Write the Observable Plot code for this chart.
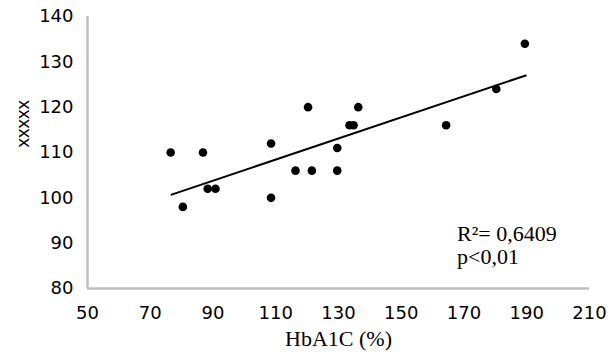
<!DOCTYPE html>
<html>
<head>
<meta charset="utf-8">
<script src="https://cdn.jsdelivr.net/npm/d3@7"></script>
<script src="https://cdn.jsdelivr.net/npm/@observablehq/plot@0.6"></script>
<style>
  html, body { margin: 0; padding: 0; background: #fff; }
</style>
</head>
<body>
<div id="chart"></div>
<script>
// Data
const hba1c = [76.5, 80.4, 86.8, 88.3, 90.8, 108.5, 108.5, 116.3, 120.3, 121.5, 129.6, 129.6, 133.5, 134.8, 136.3, 164.3, 180.3, 189.4];
const xxxxx = [110, 98, 110, 102, 102, 112, 100, 106, 120, 106, 111, 106, 116, 116, 120, 116, 124, 134];
const trendX = [76.8, 189.7];
const trendY = [100.7, 127.0];
const xTicks = [50, 70, 90, 110, 130, 150, 170, 190, 210];
const yTicks = [80, 90, 100, 110, 120, 130, 140];
const xTitle = "HbA1C (%)";
const yTitle = "xxxxx";
const statLines = ["R\u00B2= 0,6409", "p<0,01"];
const statX = [167.8, 167.8];
const statY = [90.4, 85.3];

const points = hba1c.map((x, i) => ({x, y: xxxxx[i]}));
const trend = trendX.map((x, i) => ({x, y: trendY[i]}));
const stats = statLines.map((t, i) => ({t, x: statX[i], y: statY[i]}));

const chart = Plot.plot({
  width: 613,
  height: 363,
  marginLeft: 87,
  marginRight: 24,
  marginTop: 16,
  marginBottom: 75,
  style: {fontFamily: "DejaVu Sans", fontSize: "18px", color: "#000", background: "#fff"},
  x: {domain: [xTicks[0], xTicks[xTicks.length - 1]]},
  y: {domain: [yTicks[0], yTicks[yTicks.length - 1]]},
  marks: [
    Plot.ruleX([xTicks[0]], {stroke: "#bfbfbf", strokeWidth: 2.5}),
    Plot.ruleY([yTicks[0]], {stroke: "#bfbfbf", strokeWidth: 2.5}),
    Plot.axisX({ticks: xTicks, tickSize: 0, tickPadding: 18, label: null, fontSize: 18}),
    Plot.axisY({ticks: yTicks, tickSize: 0, tickPadding: 14, label: null, fontSize: 18}),
    Plot.line(trend, {x: "x", y: "y", stroke: "#000", strokeWidth: 2}),
    Plot.dot(points, {x: "x", y: "y", r: 4.3, fill: "#000", stroke: null}),
    Plot.text(stats, {x: "x", y: "y", text: "t", textAnchor: "start", lineAnchor: "bottom",
      fontFamily: "Liberation Serif", fontSize: 22, fill: "#000"}),
    Plot.text([xTitle], {frameAnchor: "bottom", lineAnchor: "bottom", dy: 57,
      fontFamily: "Liberation Serif", fontSize: 22, fill: "#000"}),
    Plot.text([yTitle], {frameAnchor: "left", rotate: -90, dx: -65, dy: -5,
      fontFamily: "Liberation Sans", fontSize: 19, fill: "#000"})
  ]
});
document.getElementById("chart").appendChild(chart);
</script>
</body>
</html>
